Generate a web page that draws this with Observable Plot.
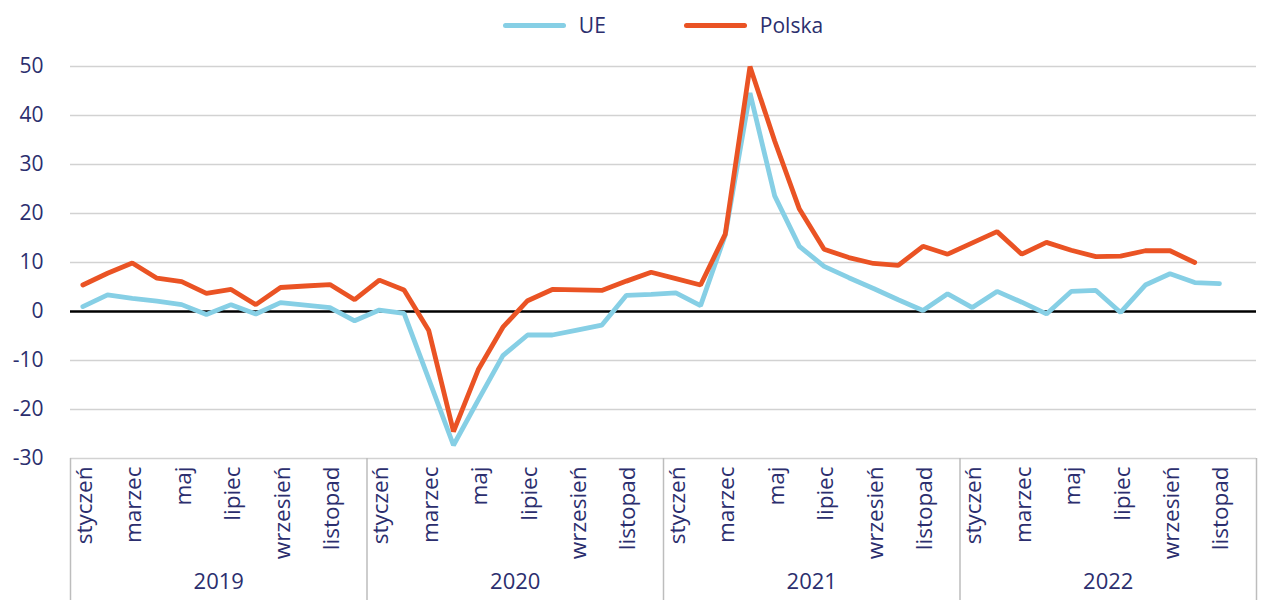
<!DOCTYPE html>
<html><head><meta charset="utf-8">
<script src="https://cdn.jsdelivr.net/npm/d3@7"></script>
<script src="https://cdn.jsdelivr.net/npm/@observablehq/plot@0.6"></script>
<style>
body{margin:0;background:#fff;font-family:"Open Sans",sans-serif;color:#2b2e6e}
#legend{height:50px;width:1287px;display:flex;align-items:center;justify-content:center;padding-left:70px;padding-right:31px;box-sizing:border-box;font-size:21px}
.item{display:flex;align-items:center}
.sw{width:63px;height:5px;border-radius:3px;margin-right:13px}
</style></head><body>
<div id="legend"></div><div id="chart"></div>
<script>
const years = [2019, 2020, 2021, 2022];
const months = ["styczeń","luty","marzec","kwiecień","maj","czerwiec","lipiec","sierpień","wrzesień","październik","listopad","grudzień"];
const labeledMonths = ["styczeń","marzec","maj","lipiec","wrzesień","listopad"];
const seriesNames = ["UE", "Polska"];
const seriesColors = ["#86cfe5", "#ea5324"];
const yTicks = [-30, -20, -10, 0, 10, 20, 30, 40, 50];
const ue = [
  1.0, 3.4, 2.7, 2.1, 1.4, -0.6, 1.4, -0.5, 1.8, 1.3, 0.8, -1.9,
  0.3, -0.4, -13.8, -27.3, -18.1, -9.0, -4.8, -4.8, -3.8, -2.8, 3.3, 3.5,
  3.8, 1.2, 15.6, 44.6, 23.6, 13.3, 9.2, 6.9, 4.7, 2.4, 0.2, 3.6,
  0.8, 4.1, 1.9, -0.5, 4.1, 4.3, -0.2, 5.4, 7.7, 5.9, 5.7, null
];
const polska = [
  5.4, 7.8, 9.9, 6.8, 6.1, 3.7, 4.5, 1.4, 4.9, 5.2, 5.5, 2.4,
  6.4, 4.4, -3.9, -24.5, -11.9, -3.2, 2.2, 4.5, 4.4, 4.3, 6.2, 8.0,
  6.7, 5.4, 15.8, 50.0, 34.8, 20.9, 12.7, 11.0, 9.8, 9.4, 13.3, 11.7,
  14.0, 16.3, 11.7, 14.1, 12.5, 11.2, 11.3, 12.4, 12.4, 10.0, null, null
];

const W = 1287, H = 550, ML = 70, MR = 31, MT = 16, MB = 142;
const keys = years.flatMap(y => months.map(m => `${m} ${y}`));
const step = (W - ML - MR) / keys.length;
const rows = [];
keys.forEach((k, i) => {
  rows.push({key: k, s: seriesNames[0], v: ue[i]});
  rows.push({key: k, s: seriesNames[1], v: polska[i]});
});
const monthLabels = years.flatMap(y => labeledMonths.map(m => ({key: `${m} ${y}`, label: m})));
const textColor = "#2b2e6e";

// legend
const lg = document.getElementById("legend");
seriesNames.forEach((n, i) => {
  const it = document.createElement("div");
  it.className = "item";
  if (i > 0) it.style.marginLeft = "78px";
  it.innerHTML = `<span class="sw" style="background:${seriesColors[i]}"></span><span>${n}</span>`;
  lg.appendChild(it);
});

const chart = Plot.plot({
  width: W, height: H,
  marginLeft: ML, marginRight: MR, marginTop: MT, marginBottom: MB,
  style: {fontFamily: '"Open Sans", sans-serif', fontSize: "21px", color: textColor, background: "#fff"},
  x: {type: "point", domain: keys, padding: 0.5, axis: null},
  y: {domain: [-30, 50], ticks: yTicks, tickSize: 0, tickPadding: 27, tickFormat: d => String(d), label: null},
  color: {domain: seriesNames, range: seriesColors},
  marks: [
    Plot.ruleY(yTicks.filter(t => t !== 0), {stroke: "#d2d2d2", strokeWidth: 1.5}),
    Plot.ruleX([keys[0], keys[12], keys[24], keys[36]], {dx: -step / 2, y1: -30, y2: -30, insetBottom: -MB, stroke: "#bdbdbd", strokeWidth: 1.5}),
    Plot.ruleX([keys[keys.length - 1]], {dx: step / 2, y1: -30, y2: -30, insetBottom: -MB, stroke: "#bdbdbd", strokeWidth: 1.5}),
    Plot.ruleY([0], {stroke: "#000", strokeWidth: 2.5}),
    Plot.line(rows, {x: "key", y: "v", z: "s", stroke: "s", strokeWidth: 4.8, strokeLinejoin: "miter", strokeLinecap: "round"}),
    Plot.text(monthLabels, {x: "key", text: "label", frameAnchor: "bottom", rotate: -90, textAnchor: "end", dy: 8, dx: 9, fontSize: 22.5, fill: textColor}),
    Plot.text(years, {x: d => `czerwiec ${d}`, text: d => String(d), frameAnchor: "bottom", dx: step / 2, dy: 130, fontSize: 22, fill: textColor})
  ]
});
document.getElementById("chart").appendChild(chart);
</script>
</body></html>
